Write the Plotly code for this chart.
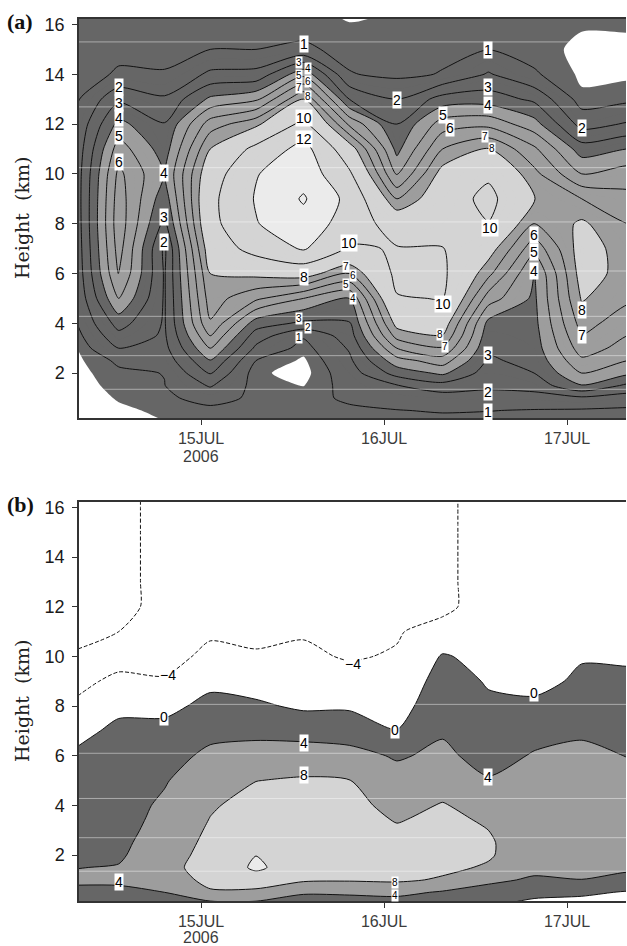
import numpy as np
import plotly.graph_objects as go

# ---------------- data ----------------
TIMES = [14.30, 14.55, 14.80, 15.05, 15.30, 15.56, 15.81, 16.07, 16.32, 16.57, 16.82, 17.08, 17.33, 17.58]
HEIGHTS = [0, 0.5, 1, 1.5, 2, 2.5, 3, 3.5, 4, 5, 6, 7, 8, 9, 10, 11, 12, 13, 14, 15, 16, 17]

# panel (a): one list per time column, values listed bottom -> top
A_1430 = [0.1, 0.1, 0.15, 0.2, 0.25, 0.3, 0.35, 0.55, 0.75, 0.85, 0.9, 0.95, 1.0, 1.05, 1.05, 1.0, 0.9, 0.7, 0.6, 0.6, 0.6, 0.6]
A_1455 = [0.2, 0.4, 0.55, 0.7, 0.85, 1.15, 2.0, 2.7, 3.4, 5.0, 6.05, 6.4, 6.6, 6.5, 6.25, 5.5, 4.3, 2.8, 1.1, 0.8, 0.75, 0.7]
A_1480 = [0.48, 0.6, 0.85, 0.98, 1.02, 1.4, 1.7, 1.85, 1.9, 1.9, 1.9, 1.8, 2.7, 3.4, 3.98, 3.5, 3.05, 2.15, 1.05, 0.8, 0.7, 0.7]
A_1505 = [0.6, 0.8, 1.3, 2.1, 3.05, 3.95, 5.0, 6.0, 6.9, 7.5, 8.0, 8.8, 9.4, 9.5, 9.0, 8.0, 6.5, 4.2, 2.2, 1.0, 0.8, 0.7]
A_1530 = [0.8, 0.9, 0.85, 0.7, 0.6, 1.0, 1.8, 2.5, 3.5, 6.2, 8.3, 10.7, 11.9, 12.15, 11.9, 10.5, 7.7, 4.8, 2.3, 1.0, 0.8, 0.7]
A_1556 = [0.85, 0.9, 0.8, 0.48, 0.3, 0.4, 0.7, 1.1, 2.8, 5.0, 8.6, 12.2, 13.3, 14.2, 13.2, 12.7, 10.5, 8.0, 4.7, 1.15, 0.7, 0.6]
A_1581 = [0.75, 0.9, 1.1, 1.3, 1.5, 1.8, 2.1, 2.5, 2.9, 4.0, 7.0, 9.8, 11.0, 11.4, 10.3, 8.7, 5.8, 3.0, 1.05, 0.75, 0.52, 0.3]
A_1607 = [0.7, 0.98, 1.3, 1.95, 3.4, 4.6, 6.0, 7.4, 8.4, 9.9, 10.4, 10.1, 9.2, 7.0, 4.8, 3.7, 3.0, 2.0, 0.8, 0.75, 0.6, 0.45]
A_1632 = [0.8, 1.05, 1.5, 2.6, 4.2, 5.5, 6.9, 7.95, 8.7, 10.05, 10.3, 10.05, 9.5, 9.0, 8.5, 7.0, 5.5, 3.4, 1.05, 0.8, 0.7, 0.65]
A_1657 = [0.75, 1.02, 1.6, 2.2, 2.5, 2.85, 3.15, 3.4, 3.7, 5.5, 7.3, 8.6, 9.95, 10.5, 9.7, 8.05, 5.7, 3.5, 2.1, 0.98, 0.8, 0.7]
A_1682 = [0.7, 0.95, 1.6, 2.4, 3.0, 3.3, 3.5, 3.6, 3.7, 3.8, 3.9, 5.3, 7.0, 8.02, 7.3, 6.2, 4.4, 2.8, 1.1, 0.7, 0.6, 0.6]
A_1708 = [0.65, 0.9, 1.8, 3.95, 5.0, 5.8, 6.5, 6.97, 7.4, 8.1, 8.5, 8.55, 8.2, 7.0, 5.0, 3.5, 1.6, 0.6, 0.4, 0.38, 0.55, 0.6]
A_1733 = [0.6, 0.85, 1.5, 2.8, 4.2, 5.0, 5.6, 6.0, 6.4, 7.2, 7.6, 7.5, 7.0, 6.3, 5.5, 4.0, 2.1, 0.8, 0.4, 0.4, 0.55, 0.65]
A_1758 = [0.6, 0.85, 1.4, 2.6, 4.0, 4.8, 5.4, 5.8, 6.2, 7.0, 7.4, 7.3, 6.8, 6.1, 5.3, 3.8, 2.0, 0.8, 0.4, 0.4, 0.55, 0.65]

# panel (b)
B_1430 = [2.0, 3.2, 4.6, 3.9, 3.5, 3.2, 2.9, 2.6, 2.3, 1.6, 0.5, -1.5, -3.7, -4.8, -4.3, -3.0, -2.0, -2.0, -2.0, -2.0, -2.0, -2.0]
B_1455 = [2.0, 3.5, 4.4, 4.2, 3.5, 3.2, 2.9, 2.7, 2.5, 2.1, 1.4, 1.0, -1.0, -3.4, -5.0, -4.0, -2.1, -2.1, -2.1, -2.1, -2.1, -2.1]
B_1480 = [2.5, 4.0, 6.0, 7.0, 6.4, 5.8, 5.3, 4.9, 4.6, 3.7, 2.6, 1.3, -1.2, -3.6, -5.5, -6.0, -6.1, -6.1, -6.1, -6.1, -6.1, -6.1]
B_1505 = [2.5, 7.6, 9.0, 9.3, 9.2, 8.9, 8.5, 8.05, 7.6, 6.5, 4.8, 3.0, 1.2, -1.0, -3.0, -4.6, -6.0, -6.2, -6.2, -6.2, -6.2, -6.2]
B_1530 = [2.8, 7.0, 10.5, 12.6, 11.95, 11.3, 10.6, 9.9, 9.3, 7.95, 5.6, 3.0, 0.6, -1.6, -3.4, -5.4, -6.0, -6.2, -6.2, -6.2, -6.2, -6.2]
B_1556 = [2.5, 4.3, 8.6, 10.0, 10.3, 10.2, 10.0, 9.7, 9.3, 8.4, 5.8, 2.6, -0.6, -2.3, -3.4, -4.3, -6.0, -6.2, -6.2, -6.2, -6.2, -6.2]
B_1581 = [2.6, 4.4, 8.4, 9.4, 9.6, 9.6, 9.5, 9.3, 9.0, 8.1, 5.3, 2.2, -0.5, -2.6, -4.3, -5.0, -6.0, -6.2, -6.2, -6.2, -6.2, -6.2]
B_1607 = [2.0, 5.0, 8.6, 9.2, 9.3, 9.0, 8.4, 7.7, 7.0, 5.5, 3.6, 0.1, -1.6, -2.8, -3.7, -4.3, -6.0, -6.2, -6.2, -6.2, -6.2, -6.2]
B_1632 = [2.5, 3.6, 7.6, 8.8, 9.2, 9.3, 9.1, 8.7, 8.2, 6.6, 4.8, 3.6, 2.6, 1.6, 0.3, -2.5, -5.0, -5.0, -5.0, -5.0, -5.0, -5.0]
B_1657 = [0.6, 2.5, 4.8, 7.6, 8.4, 8.4, 8.0, 7.5, 6.8, 4.3, 2.6, 1.6, 0.6, -0.3, -1.0, -1.5, -2.0, -2.0, -2.0, -2.0, -2.0, -2.0]
B_1682 = [-1.5, 1.5, 3.5, 5.0, 5.6, 5.9, 6.0, 6.0, 5.9, 5.4, 4.3, 2.8, 0.8, -1.2, -1.5, -1.8, -2.0, -2.0, -2.0, -2.0, -2.0, -2.0]
B_1708 = [-1.5, 0.7, 3.95, 5.0, 5.5, 5.8, 6.0, 6.1, 6.1, 5.9, 5.0, 3.4, 1.8, 0.7, -0.3, -1.2, -2.0, -2.0, -2.0, -2.0, -2.0, -2.0]
B_1733 = [-2.0, -0.3, 3.0, 4.6, 5.2, 5.5, 5.7, 5.8, 5.8, 5.4, 3.9, 3.0, 1.8, 0.9, -0.6, -1.3, -2.0, -2.0, -2.0, -2.0, -2.0, -2.0]
B_1758 = [-2.0, -0.3, 3.0, 4.6, 5.2, 5.5, 5.7, 5.8, 5.8, 5.4, 3.9, 3.0, 1.8, 0.9, -0.6, -1.3, -2.0, -2.0, -2.0, -2.0, -2.0, -2.0]

TICK_VALS = [15, 16, 17]
TICK_TEXT = ["15JUL", "16JUL", "17JUL"]
YEAR_TEXT = "2006"
Y_TICKS = [2, 4, 6, 8, 10, 12, 14, 16]
REF_LEVELS = [15.3, 12.69, 10.25, 8.07, 6.1, 4.28, 2.7, 1.35]

# contour labels, regular size: (time, height, text)
LAB_A_X = [15.56, 15.56, 15.56,
           14.55, 14.55, 14.55, 14.55, 14.55, 14.80, 14.80, 14.80,
           16.07, 16.32, 16.36, 16.57, 16.57, 16.57, 17.08,
           16.58, 15.81, 16.32, 15.56,
           16.82, 16.82, 16.82,
           17.08, 17.08, 16.57, 16.57, 16.57]
LAB_A_Y = [15.2, 12.23, 11.39,
           13.49, 12.84, 12.23, 11.52, 10.47, 10.03, 8.28, 7.28,
           12.97, 12.37, 11.86, 14.98, 13.48, 12.77, 11.83,
           7.82, 7.24, 4.77, 5.87,
           7.55, 6.85, 6.1,
           4.53, 3.53, 2.73, 1.25, 0.45]
LAB_A_T = ["1", "10", "12",
           "2", "3", "4", "5", "6", "4", "3", "2",
           "2", "5", "6", "1", "3", "4", "2",
           "10", "10", "10", "8",
           "6", "5", "4",
           "8", "7", "3", "2", "1"]
# crowded contour labels (drawn smaller)
SMALL_A_X = [15.535, 15.585, 15.535, 15.585, 15.535, 15.585,
             15.79, 15.83, 15.79, 15.83,
             15.535, 15.585, 15.535,
             16.305, 16.335,
             16.55, 16.59]
SMALL_A_Y = [14.47, 14.22, 13.97, 13.72, 13.45, 13.12,
             6.27, 5.9, 5.54, 5.0,
             4.21, 3.83, 3.44,
             3.55, 3.06,
             11.5, 11.03]
SMALL_A_T = ["3", "4", "5", "6", "7", "8",
             "7", "6", "5", "4",
             "3", "2", "1",
             "8", "7",
             "7", "8"]

LAB_B_X = [14.82, 15.83, 14.80, 16.06, 16.82, 15.56, 16.57, 15.56, 14.55]
LAB_B_Y = [9.25, 9.7, 7.57, 7.04, 8.52, 6.5, 5.15, 5.22, 0.92]
LAB_B_T = ["\u22124", "\u22124", "0", "0", "0", "4", "4", "8", "4"]
SMALL_B_X = [16.06, 16.06]
SMALL_B_Y = [0.88, 0.36]
SMALL_B_T = ["8", "4"]

# ---------------- styling ----------------
WHITE = "#ffffff"
DARK = "#666666"
MID = "#9d9d9d"
LIGHT = "#d4d4d4"
LIGHTEST = "#ebebeb"
SMOOTH = 0.7

Z_A = np.column_stack([A_1430, A_1455, A_1480, A_1505, A_1530, A_1556, A_1581,
                       A_1607, A_1632, A_1657, A_1682, A_1708, A_1733, A_1758])
Z_B = np.column_stack([B_1430, B_1455, B_1480, B_1505, B_1530, B_1556, B_1581,
                       B_1607, B_1632, B_1657, B_1682, B_1708, B_1733, B_1758])

# fill colours for panel (a): bands between 0.5-steps from 0.5 to 12
cs_a = []
for j in range(25):
    lvl = 0.25 + 0.5 * j
    if lvl < 0.5:
        c = WHITE
    elif lvl < 4:
        c = DARK
    elif lvl < 8:
        c = MID
    elif lvl < 12:
        c = LIGHT
    else:
        c = LIGHTEST
    cs_a.append([j / 24, c])
cs_b = [[0, WHITE], [0.25, DARK], [0.5, MID], [0.75, LIGHT], [1, LIGHTEST]]

fig = go.Figure()

def add_panel(z, xa, ya, fill_cs, fstart, fend, fsize, line_sets):
    fig.add_trace(go.Contour(
        x=TIMES, y=HEIGHTS, z=z, xaxis=xa, yaxis=ya,
        autocontour=False,
        contours=dict(start=fstart, end=fend, size=fsize, coloring="fill", showlines=False),
        colorscale=fill_cs, showscale=False,
        line=dict(width=0, smoothing=SMOOTH), hoverinfo="skip"))
    for (s, e, sz, dash) in line_sets:
        fig.add_trace(go.Contour(
            x=TIMES, y=HEIGHTS, z=z, xaxis=xa, yaxis=ya,
            autocontour=False,
            contours=dict(start=s, end=e, size=sz, coloring="none"),
            showscale=False,
            line=dict(color="#111111", width=1, smoothing=SMOOTH, dash=dash),
            hoverinfo="skip"))

add_panel(Z_A, "x", "y", cs_a, 0.5, 12, 0.5,
          [(1, 8, 1, "solid"), (10, 14, 2, "solid")])
add_panel(Z_B, "x2", "y2", cs_b, 0, 12, 4,
          [(0, 12, 4, "solid"), (-4, -4, 1, "4px,2px")])

# geometry
W, H = 627, 946
ML, MR, MT, MB = 79, 1, 19, 45
PH = H - MT - MB
PW = W - ML - MR
def py2paper(py):
    return (H - MB - py) / PH
def px2paper(px):
    return (px - ML) / PW

XR = [14.333, 17.322]
axis_font = dict(family="Liberation Sans, Arial, sans-serif", size=18, color="#1a1a1a")
xtick_font = dict(family="Liberation Sans, Arial, sans-serif", size=16, color="#3c3c3c")

xcommon = dict(range=XR, tickvals=TICK_VALS, ticktext=TICK_TEXT, ticks="outside",
               ticklen=5, tickcolor="#333", showgrid=False, zeroline=False,
               showline=True, linecolor="#333", linewidth=1.5, mirror=True,
               tickfont=xtick_font, ticklabelstandoff=0, automargin=False)
ycommon = dict(tickvals=Y_TICKS, ticks="outside", ticklen=5, tickcolor="#333",
               showgrid=False, zeroline=False, showline=True, linecolor="#333",
               linewidth=1.5, mirror=False, tickfont=axis_font, ticklabelstandoff=4,
               automargin=False)

fig.update_layout(
    template="none",
    width=W, height=H, margin=dict(l=ML, r=MR, t=MT, b=MB, autoexpand=False),
    paper_bgcolor="white", plot_bgcolor="white", showlegend=False,
    xaxis=dict(domain=[0, 1], anchor="y", **xcommon),
    yaxis=dict(domain=[py2paper(418), 1], anchor="x", range=[0.197, 16.22], **ycommon),
    xaxis2=dict(domain=[0, 1], anchor="y2", **xcommon),
    yaxis2=dict(domain=[0, py2paper(502)], anchor="x2", range=[0.15, 16.22], **ycommon),
)

shapes = []
for yr in ["y", "y2"]:
    xr = "x domain" if yr == "y" else "x2 domain"
    for lv in REF_LEVELS:
        shapes.append(dict(type="line", xref=xr, yref=yr, x0=0, x1=1, y0=lv, y1=lv,
                           line=dict(color="rgba(255,255,255,0.45)", width=1), layer="above"))
fig.update_layout(shapes=shapes)

ann = []
lab_font = dict(family="Liberation Sans, Arial, sans-serif", size=14, color="black")
small_font = dict(family="Liberation Sans, Arial, sans-serif", size=10, color="black")
def add_labels(xs, ys, ts, xr, yr, font):
    for xv, yv, t in zip(xs, ys, ts):
        ann.append(dict(x=xv, y=yv, xref=xr, yref=yr, text=t, showarrow=False,
                        font=font, bgcolor="white", borderpad=0,
                        xanchor="center", yanchor="middle"))
add_labels(LAB_A_X, LAB_A_Y, LAB_A_T, "x", "y", lab_font)
add_labels(SMALL_A_X, SMALL_A_Y, SMALL_A_T, "x", "y", small_font)
add_labels(LAB_B_X, LAB_B_Y, LAB_B_T, "x2", "y2", lab_font)
add_labels(SMALL_B_X, SMALL_B_Y, SMALL_B_T, "x2", "y2", small_font)

def paper_text(px, py, text, font, angle=0):
    ann.append(dict(x=px2paper(px), y=py2paper(py), xref="paper", yref="paper",
                    text=text, textangle=angle, showarrow=False, font=font,
                    xanchor="center", yanchor="middle"))

serif = "DejaVu Serif, Liberation Serif, serif"
panel_font = dict(family="Liberation Serif, serif", size=22, color="#111")
paper_text(20, 21, "<b>(a)</b>", panel_font)
paper_text(20, 505, "<b>(b)</b>", panel_font)
for cy in [218, 701]:
    paper_text(22, cy, "Height  (km)", dict(family=serif, size=19, color="#222"), angle=-90)
for py in [456, 937]:
    paper_text(201, py, YEAR_TEXT, xtick_font)
fig.update_layout(annotations=ann)

fig.write_html("out.html", config={"displayModeBar": False},
               post_script="document.body.style.margin='0px';document.body.style.overflow='hidden';")
